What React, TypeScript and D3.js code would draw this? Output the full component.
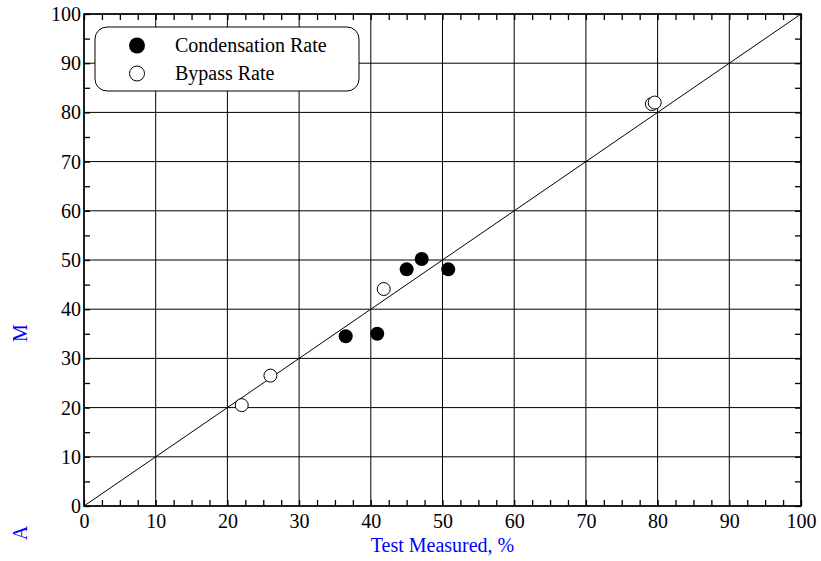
import React, { useEffect, useRef } from "react";
import { axisBottom, axisLeft, axisRight, axisTop, range, scaleLinear, select } from "d3";

const condX = [36.5, 40.9, 45.0, 47.1, 50.8];
const condY = [34.5, 35.0, 48.1, 50.2, 48.1];
const bypassX = [22.0, 26.0, 41.8, 79.2, 79.6];
const bypassY = [20.5, 26.5, 44.1, 81.7, 82.0];
const majorTicks = range(0, 101, 10);
const xMinorTicks = range(0, 101, 2.5);
const yMinorTicks = range(0, 101, 5);

const W = 821;
const H = 561;
const margin = { top: 14, right: 20, bottom: 55, left: 84 };

export default function App() {
  const svgRef = useRef(null);

  useEffect(() => {
    const svg = select(svgRef.current);
    svg.selectAll("*").remove();
    const w = W - margin.left - margin.right;
    const h = H - margin.top - margin.bottom;
    const x = scaleLinear().domain([0, 100]).range([0, w]);
    const y = scaleLinear().domain([0, 100]).range([h, 0]);
    const font = "'Liberation Serif', 'Times New Roman', serif";
    const fs = 20;

    const g = svg.append("g").attr("transform", `translate(${margin.left},${margin.top})`);

    // grid
    g.selectAll(".vg")
      .data(majorTicks)
      .enter()
      .append("line")
      .attr("x1", (d) => x(d))
      .attr("x2", (d) => x(d))
      .attr("y1", 0)
      .attr("y2", h)
      .attr("stroke", "#000")
      .attr("stroke-width", 1);
    g.selectAll(".hg")
      .data(majorTicks)
      .enter()
      .append("line")
      .attr("y1", (d) => y(d))
      .attr("y2", (d) => y(d))
      .attr("x1", 0)
      .attr("x2", w)
      .attr("stroke", "#000")
      .attr("stroke-width", 1);

    const styleAxis = (sel: any, labels: boolean) => {
      sel.select(".domain").remove();
      sel.selectAll("line").attr("stroke", "#000").attr("stroke-width", 1.3);
      sel.selectAll("text").attr("font-family", font).attr("font-size", fs).attr("fill", "#000");
      if (!labels) sel.selectAll("text").remove();
    };

    // minor ticks
    g.append("g").attr("transform", `translate(0,${h})`)
      .call(axisBottom(x).tickValues(xMinorTicks).tickSize(-6).tickFormat(() => ""))
      .call((s) => styleAxis(s, false));
    g.append("g")
      .call(axisTop(x).tickValues(xMinorTicks).tickSize(-6).tickFormat(() => ""))
      .call((s) => styleAxis(s, false));
    g.append("g")
      .call(axisLeft(y).tickValues(yMinorTicks).tickSize(-6).tickFormat(() => ""))
      .call((s) => styleAxis(s, false));
    g.append("g").attr("transform", `translate(${w},0)`)
      .call(axisRight(y).tickValues(yMinorTicks).tickSize(-6).tickFormat(() => ""))
      .call((s) => styleAxis(s, false));

    // major labels
    g.append("g").attr("transform", `translate(0,${h})`)
      .call(axisBottom(x).tickValues(majorTicks).tickSize(0).tickPadding(0).tickFormat((d: any) => `${d}`))
      .call((s) => styleAxis(s, true))
      .selectAll("text").attr("dy", null).attr("y", 22);
    g.append("g")
      .call(axisLeft(y).tickValues(majorTicks).tickSize(0).tickPadding(3).tickFormat((d: any) => `${d}`))
      .call((s) => styleAxis(s, true));

    // frame
    g.append("rect").attr("width", w).attr("height", h).attr("fill", "none").attr("stroke", "#000").attr("stroke-width", 1.5);

    // diagonal
    g.append("line").attr("x1", x(0)).attr("y1", y(0)).attr("x2", x(100)).attr("y2", y(100))
      .attr("stroke", "#000").attr("stroke-width", 1);

    // points
    g.selectAll(".cond")
      .data(condX.map((v, i) => [v, condY[i]]))
      .enter()
      .append("circle")
      .attr("cx", (d) => x(d[0]))
      .attr("cy", (d) => y(d[1]))
      .attr("r", 7)
      .attr("fill", "#000");
    g.selectAll(".byp")
      .data(bypassX.map((v, i) => [v, bypassY[i]]))
      .enter()
      .append("circle")
      .attr("cx", (d) => x(d[0]))
      .attr("cy", (d) => y(d[1]))
      .attr("r", 6.5)
      .attr("fill", "#fff")
      .attr("stroke", "#000")
      .attr("stroke-width", 1);

    // legend
    const lg = svg.append("g");
    lg.append("rect").attr("x", 95).attr("y", 27).attr("width", 264).attr("height", 64).attr("rx", 12)
      .attr("fill", "#fff").attr("stroke", "#000").attr("stroke-width", 1);
    lg.append("circle").attr("cx", 137).attr("cy", 45.5).attr("r", 8).attr("fill", "#000");
    lg.append("circle").attr("cx", 137).attr("cy", 73.5).attr("r", 7.5).attr("fill", "#fff").attr("stroke", "#000");
    lg.append("text").attr("x", 175).attr("y", 52).attr("font-family", font).attr("font-size", fs).text("Condensation Rate");
    lg.append("text").attr("x", 175).attr("y", 80).attr("font-family", font).attr("font-size", fs).text("Bypass Rate");

    // axis titles
    svg.append("text").attr("x", margin.left + w / 2).attr("y", 552).attr("text-anchor", "middle")
      .attr("font-family", font).attr("font-size", fs).attr("fill", "#0000ff").text("Test Measured, %");
    svg.append("text").attr("transform", "translate(27,333) rotate(-90)").attr("text-anchor", "middle")
      .attr("font-family", font).attr("font-size", fs).attr("fill", "#0000ff").text("M");
    svg.append("text").attr("transform", "translate(27,533) rotate(-90)").attr("text-anchor", "middle")
      .attr("font-family", font).attr("font-size", fs).attr("fill", "#0000ff").text("A");
  }, []);

  return (
    <svg
      ref={svgRef}
      width={W}
      height={H}
      style={{ position: "absolute", left: 0, top: 0, background: "#fff" }}
    />
  );
}
